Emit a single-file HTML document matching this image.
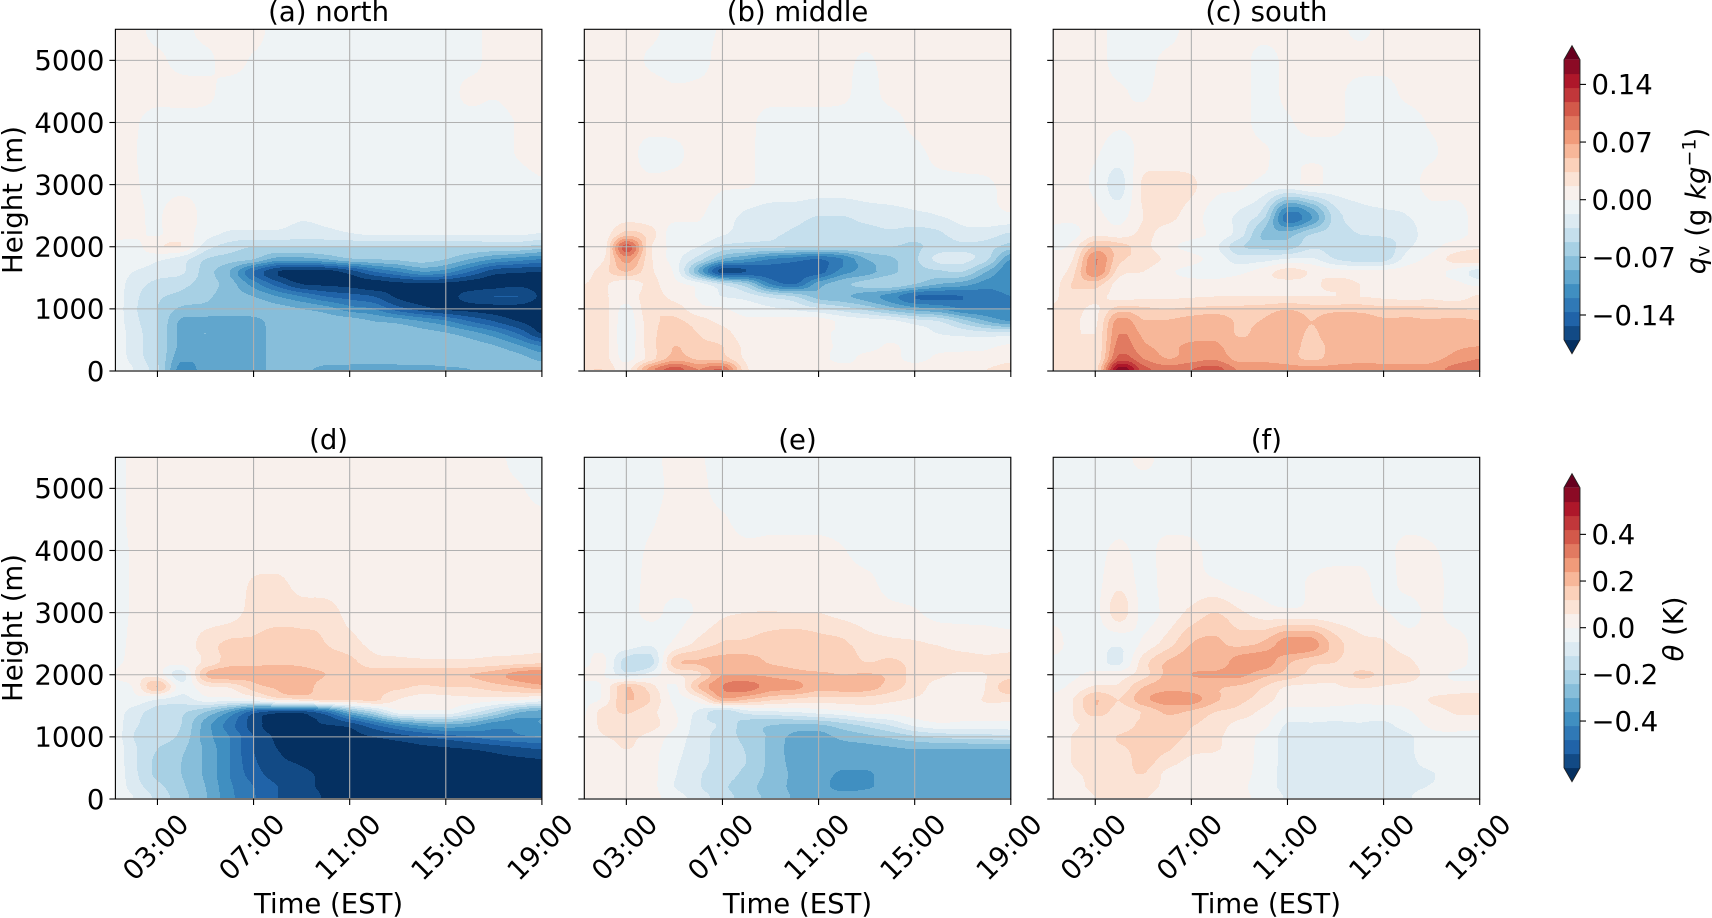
<!DOCTYPE html>
<html>
<head>
<meta charset="utf-8">
<title>Height-time anomalies</title>
<style>
html,body{margin:0;padding:0;background:#fff;}
svg{display:block;font-family:"DejaVu Sans","Liberation Sans",sans-serif;}
text{fill:#000;font-size:27.5px;}
</style>
</head>
<body>
<svg id="figure" xmlns="http://www.w3.org/2000/svg" width="1712" height="918" viewBox="0 0 1712 918">
  <rect width="1712" height="918" fill="#fff"/>
  <g id="panels"></g>
  <text x="328.6" y="21" text-anchor="middle">(a) north</text>
  <text x="797.5" y="21" text-anchor="middle">(b) middle</text>
  <text x="1266.4" y="21" text-anchor="middle">(c) south</text>
  <text x="328.6" y="449" text-anchor="middle">(d)</text>
  <text x="797.5" y="449" text-anchor="middle">(e)</text>
  <text x="1266.4" y="449" text-anchor="middle">(f)</text>
  <text transform="translate(22,200) rotate(-90)" text-anchor="middle">Height (m)</text>
  <text transform="translate(22,628) rotate(-90)" text-anchor="middle">Height (m)</text>
  <text x="328.6" y="913" text-anchor="middle">Time (EST)</text>
  <text x="797.5" y="913" text-anchor="middle">Time (EST)</text>
  <text x="1266.4" y="913" text-anchor="middle">Time (EST)</text>
  <g id="colorbars"></g>
  <text transform="translate(1705.5,201) rotate(-90)" text-anchor="middle"><tspan font-style="italic">q</tspan><tspan font-size="19" dy="4">v</tspan><tspan dy="-4"> (g </tspan><tspan font-style="italic">kg</tspan><tspan font-size="19" dy="-10">−1</tspan><tspan dy="10">)</tspan></text>
  <text transform="translate(1683,629) rotate(-90)" text-anchor="middle"><tspan font-style="italic">θ</tspan> (K)</text>
</svg>
<script>
/* Time axis of the data grid, hours EST */
const timeHours = [1.25,2,3,4,5,6,7,8,9,10,11,12,13,14,15,16,17,18,19];
/* Height axis of the data grid, metres, listed from the top of the plot down */
const heightMeters = [5500,5000,4500,4000,3500,3000,2500,2200,2000,1800,1600,1400,1200,1000,800,600,400,200,30];

const xTickHours = [3,7,11,15,19];
const xTickLabels = ['03:00','07:00','11:00','15:00','19:00'];
const yTickValues = [0,1000,2000,3000,4000,5000];
const yTickLabels = ['0','1000','2000','3000','4000','5000'];

/* Contour interval of each variable; the fields below are in multiples of it */
const qvInterval = 0.017;
const thetaInterval = 0.06;
const qvColorbarTicks = [0.14,0.07,0,-0.07,-0.14];
const qvColorbarLabels = ['0.14','0.07','0.00','−0.07','−0.14'];
const thetaColorbarTicks = [0.4,0.2,0,-0.2,-0.4];
const thetaColorbarLabels = ['0.4','0.2','0.0','−0.2','−0.4'];

const qvNorth = [
[.3,.3,-.3,-.3,.3,.3,.3,-.3,-.3,-.3,-.3,-.3,-.3,-.3,-.3,-.3,.3,.3,.3],
[.3,.3,.2,-.3,-.2,.3,-.1,-.3,-.3,-.3,-.3,-.3,-.3,-.3,-.3,-.3,.3,.3,.3],
[.3,.3,.3,.3,.2,-.3,-.3,-.3,-.3,-.3,-.3,-.3,-.3,-.3,-.3,.2,.1,.3,.3],
[.3,.1,-.3,-.3,-.3,-.3,-.3,-.3,-.3,-.3,-.3,-.3,-.3,-.3,-.3,-.3,-.3,.05,.3],
[.3,.05,-.3,-.3,-.3,-.3,-.3,-.3,-.3,-.3,-.3,-.3,-.3,-.3,-.3,-.3,-.3,.05,.3],
[.3,.1,-.3,-.3,-.3,-.3,-.3,-.3,-.3,-.3,-.3,-.3,-.3,-.3,-.3,-.3,-.3,-.3,-.1],
[.3,.2,-.1,.6,-.3,-.4,-.4,-.4,-.8,-.6,-.4,-.4,-.4,-.4,-.4,-.4,-.4,-.4,-.4],
[.3,.2,-.1,.5,-.6,-1.2,-1.3,-1.3,-1.6,-1.4,-1.1,-.9,-.9,-.9,-.9,-.9,-.9,-.9,-1.1],
[-.3,-.4,.8,1,-1.5,-2.5,-3,-3,-3,-3,-3,-3,-3,-3,-3,-3,-3,-3,-3.5],
[-.3,-.4,-.8,-1.5,-3,-3.5,-4,-5.5,-5.5,-5,-4.2,-4,-3.8,-3.5,-4,-5,-6,-6.5,-7],
[-.4,-1,-1.5,-1.8,-3.5,-5,-8,-10,-10.5,-10.5,-9.5,-8,-7,-6,-6.5,-8,-9.5,-9.8,-10],
[-.5,-1.5,-2.3,-2.7,-3.5,-4.5,-6.5,-8.5,-10,-10.2,-10.3,-10.5,-10.3,-10.2,-10.3,-10.5,-10.5,-10.2,-10.5],
[-.5,-1.7,-2.8,-3.3,-3.8,-4.5,-5,-6,-7,-8,-8.5,-9,-10.2,-10.5,-10.5,-9.5,-9,-9,-10.2],
[-.5,-1.8,-3,-4.2,-4.3,-4.4,-4.5,-4.6,-5,-5.5,-6.5,-7,-8.5,-9.5,-10.2,-10.3,-10.4,-10.5,-10.7],
[-.5,-1.7,-3,-5.2,-5.3,-5.5,-5.3,-4.6,-4.5,-4.5,-4.5,-5,-5.3,-6,-6.8,-8,-9,-10,-10.5],
[-.5,-1.5,-3,-5.3,-5,-5.5,-5.5,-4.5,-4.5,-4.5,-4.5,-4.5,-4.5,-4.6,-4.9,-5.5,-6.5,-8,-10],
[-.5,-1.5,-3,-5.3,-5.4,-5.5,-5.5,-4.5,-4.5,-4.5,-4.5,-4.5,-4.5,-4.5,-4.5,-4.6,-4.9,-5.8,-7],
[-.5,-1.4,-3,-5.8,-5.5,-5.5,-5.5,-4.5,-4.5,-4.6,-4.7,-4.7,-4.7,-4.7,-4.6,-4.5,-4.5,-4.6,-5.3],
[-.3,-1,-2.8,-6.5,-5.5,-5.5,-5.5,-4.6,-4.8,-5.2,-5.2,-5.3,-5.2,-5.2,-5.1,-5,-4.7,-4.5,-4.5]
];

const qvMiddle = [
[.3,.3,.3,.2,-.3,-.3,.1,.3,.3,.3,.3,.3,.3,.3,.3,.3,.3,.3,.3],
[.3,.3,.3,-.1,-.3,-.3,.3,.3,.3,.3,.3,.2,-.1,.3,.3,.3,.3,.3,.3],
[.3,.3,.3,.3,.1,.2,.3,.3,.3,.3,.3,.2,-.3,.3,.3,.3,.3,.3,.3],
[.3,.3,.3,.3,.3,.3,.3,.2,-.3,-.3,-.3,-.3,-.3,-.3,.2,.3,.3,.3,.3],
[.3,.3,.3,-.3,-.2,.3,.3,.15,-.3,-.3,-.3,-.3,-.3,-.3,-.2,.2,.3,.3,.3],
[.3,.3,.3,.2,.3,.3,.1,.1,-.3,-.3,-.3,-.3,-.3,-.3,-.3,-.3,-.2,-.1,.2],
[.3,.3,.5,.3,.3,.1,-.5,-1.2,-1.5,-1.6,-2,-2,-1.6,-1.4,-1.2,-1,-.6,-.3,-.1],
[.3,.3,2.5,1.5,-.6,-.3,-.9,-1.5,-1.8,-2.2,-2.4,-2.3,-2.4,-2.2,-2.5,-2.2,-1.4,-1.5,-2.2],
[.1,.1,6.5,1.2,-.3,-1,-2.3,-2.6,-2.7,-2.9,-3,-3,-3,-3,-3.2,-2.5,-2.2,-2.5,-3.5],
[.2,.8,4.5,1.2,-.5,-2.5,-5,-6,-7,-7.5,-8,-7,-5,-4.2,-3.2,-1.7,-1.7,-2.8,-6],
[.6,1.5,3,1.2,-.2,-5,-9.5,-9,-8.5,-8.5,-8.5,-6.5,-5.5,-4.3,-3.5,-3.2,-3,-5,-7],
[1,1.2,.3,1.2,.3,-.5,-2.2,-3.8,-7,-8,-5.5,-4.3,-3.6,-3.2,-4,-5,-5.5,-6.5,-6.5],
[1.3,1.2,.4,1.5,.6,-.1,-1,-1.4,-2.3,-3,-4.5,-4.8,-5.5,-6.5,-8,-8.2,-8,-7.5,-7],
[1.5,1.5,-.3,1.8,1.6,.3,.1,-.5,-.8,-1.2,-1.8,-2.5,-3.3,-4.5,-5.5,-6,-7,-7,-7],
[1.5,1.5,-.5,1.6,2.2,1.5,.7,.2,.3,.5,.5,-.2,-.5,-.7,-1.5,-2,-3.5,-5,-6],
[1.5,1.5,-.6,1.6,2.6,2,1.5,.3,.3,.3,.3,-.3,-.3,-.3,-.5,-1,-1.3,-1.5,-1.5],
[1.5,1.5,-.5,1.6,3,2.2,2,.7,.3,.3,.3,-.2,-.3,.1,-.3,-.3,-.3,-.2,.2],
[1.5,1.5,-.3,1.5,3.5,2.8,2.5,.8,.3,.3,.3,-.3,.3,.3,-.3,.2,.3,.3,.7],
[1.8,2,.6,4.5,6.5,5,6,1.2,.6,.6,.6,.4,.3,.6,.5,.7,.7,1,1.5]
];

const qvSouth = [
[.3,.3,.3,-.3,-.3,-.3,.3,.3,.3,.3,.3,.3,.3,-.2,.3,.3,.3,.3,.3],
[.3,.3,.3,-.3,-.3,.2,.3,.3,.3,-.3,.2,.3,.3,.3,.3,.3,.3,.3,.3],
[.3,.3,.3,.1,-.1,.3,.3,.3,.3,-.3,.2,.3,.2,-.3,-.3,.2,.3,.3,.3],
[.3,.3,.3,.1,.2,.3,.3,.3,.3,-.3,-.1,.3,.2,-.3,-.3,-.3,.1,.3,.3],
[.3,.3,.1,-.5,.3,.3,.3,.3,.3,.1,-.3,-.3,-.3,-.3,-.3,-.3,-.1,.3,.3],
[.3,.3,-.2,-1.4,1.2,1.5,1.2,.3,.2,-.3,-.3,.2,-.3,-.3,-.3,-.3,.3,.3,.3],
[.3,.3,.3,-.4,1,1.3,.5,-.5,-1.2,-2.6,-7.5,-6,-2.5,-1.5,-1.2,-1,-.3,-.3,.3],
[-.3,-.4,.8,.5,1.2,.6,.3,-.3,-1.5,-4.2,-4.5,-3,-2.5,-2,-1.8,-1.5,-.3,-.3,.3],
[-.1,.3,3.2,2.5,1.4,.3,-.3,-.8,-2.8,-3.3,-3.5,-2.2,-2.5,-3,-2.8,-1.2,-.3,.4,.8],
[.3,.8,5,2.3,1.6,.8,.3,-.4,-1.5,-1.4,-.9,-.8,-2,-2.5,-2.4,-.5,.3,1.4,1.8],
[.3,1.5,5,1.5,1,.2,-.3,-.5,-.3,.5,1.4,.9,.4,.3,.3,.4,.3,-.3,-1.5],
[.5,2,2.5,.5,.2,.4,.4,.4,.7,.8,.7,.8,1.3,1,.6,.3,.2,.2,-.3],
[.7,1.8,1.5,.5,.8,.8,.9,1,1,1,1,1,1,1,.8,.6,.7,.5,1.2],
[1.2,1.5,.8,2.5,2.2,2,2.2,2.3,2.3,2.5,2.9,2.5,2.6,2.6,2.3,2.4,2.2,2,1.9],
[1.2,1.3,.8,4.5,3.1,3.1,3.5,3.8,2.8,3.1,3.8,3,3.8,3.6,3.2,3.2,3.1,3.3,3.1],
[1.2,1.3,1,5,3.8,3.4,3.6,3.8,2.9,3.4,3.8,2.8,3.8,3.1,3.6,3.5,3.4,3.5,3.8],
[1.1,1.6,1,5.5,4.2,3.8,4.2,4.2,3.3,3.3,3.6,2.6,3.4,3.3,3.4,3.4,3.3,3.8,4],
[1,2,1,6.5,5,4,4.5,4.8,3.6,3.7,3.4,2.8,3.4,3.6,3.6,3.6,3.7,4.4,5],
[1.5,2,1.5,9.5,6.5,5.5,6,6.5,4.8,4.6,4.5,4.3,4.4,4.5,4.4,4.4,4.4,5.5,5.8]
];

const thetaNorth = [
[-.3,.2,.3,.3,.3,.3,.3,.3,.3,.3,.3,.3,.3,.3,.3,.3,.3,-.3,-.3],
[-.3,.2,.3,.3,.3,.3,.3,.3,.3,.3,.3,.3,.3,.3,.3,.3,.3,.1,-.3],
[-.3,.2,.3,.3,.3,.3,.3,.3,.3,.3,.3,.3,.3,.3,.3,.3,.3,.3,.2],
[-.3,.1,.3,.3,.3,.3,.3,.3,.3,.3,.3,.3,.3,.3,.3,.3,.3,.3,.3],
[-.3,.1,.3,.3,.3,.4,1.1,1.2,.6,.3,.3,.3,.3,.3,.3,.3,.3,.3,.3],
[-.3,.1,.3,.3,.3,.5,1.4,1.5,1.5,1.6,.6,.3,.3,.3,.3,.3,.3,.3,.3],
[-.3,.2,.3,.3,1.5,2.2,2.2,2.6,2.4,2,1.4,.7,.5,.5,.5,.5,.5,.5,.6],
[-.2,.3,.3,.3,1.2,2.5,2.8,2.8,2.8,2.5,2.3,1.4,1.3,1.2,1.2,1.2,1.4,1.6,1.8],
[.1,.6,.6,-1.5,3,3.8,3.3,3.8,3.4,3,2.6,2.5,2.6,2.7,2.8,3,3.5,4.5,5],
[-.3,.1,3,-.6,.8,1.1,2.5,3.2,3.5,2.5,2.5,2,2.2,1.8,2,2,2.5,2.9,3.5],
[-.5,-.3,-1,-1.5,-.5,-.5,-.2,1.2,1.6,2.3,2,2.3,1,.4,.5,.6,.4,.3,-.3],
[-.5,-1.5,-2.5,-2.8,-4,-6,-8.5,-9.5,-9.5,-8,-5,-3,-.5,-.3,-.3,-1.5,-3,-4.8,-5.5],
[-.5,-1.8,-2.5,-3,-5.5,-7.5,-9.5,-10.5,-10.2,-10,-9.5,-8,-6.5,-5.5,-5,-5.5,-6.5,-6.7,-6],
[-.5,-2,-2.5,-3.3,-5.5,-7,-9,-10.2,-10.2,-10.2,-10.3,-10,-9.5,-9,-8.5,-8,-7.5,-7.2,-7],
[-.4,-1.8,-3,-3.8,-5.2,-7,-9,-10,-10.2,-10.5,-10.5,-10.5,-10.5,-10.3,-10.2,-10,-9.7,-9.3,-9],
[-.4,-1.8,-3.3,-4,-5.2,-7,-8.8,-9.8,-10.1,-10.5,-10.6,-10.6,-10.6,-10.6,-10.6,-10.4,-10.3,-10.3,-10.2],
[-.4,-1.7,-3.3,-4,-5.2,-7,-8.5,-9.5,-9.8,-10.2,-10.6,-10.6,-10.6,-10.6,-10.6,-10.6,-10.6,-10.6,-10.6],
[-.3,-1.5,-2.7,-3.8,-5,-6.8,-8,-9,-9.7,-10.2,-10.6,-10.6,-10.6,-10.6,-10.6,-10.6,-10.6,-10.6,-10.6],
[-.2,-1,-2.3,-3.6,-4.9,-6.7,-7.9,-9,-9.5,-10.1,-10.6,-10.6,-10.6,-10.6,-10.6,-10.6,-10.6,-10.6,-10.6]
];

const thetaMiddle = [
[-.3,-.3,-.3,-.3,.3,.1,-.3,-.3,-.3,-.3,-.3,-.3,-.3,-.3,-.3,-.3,-.3,-.3,-.3],
[-.3,-.3,-.3,-.3,.2,.2,-.3,-.3,-.3,-.3,-.3,-.3,-.3,-.3,-.3,-.3,-.3,-.3,-.3],
[-.3,-.3,-.3,-.1,.3,.3,.1,-.3,-.3,-.3,-.3,-.3,-.3,-.3,-.3,-.3,-.3,-.3,-.3],
[-.3,-.3,-.3,.1,.3,.3,.3,.2,.3,.3,.3,.05,-.3,-.3,-.3,-.3,-.3,-.3,-.3],
[-.3,-.3,-.3,.2,.3,.3,.3,.3,.3,.3,.3,.3,.2,-.3,-.3,-.3,-.3,-.3,-.3],
[-.3,-.3,-.3,.2,-.2,.1,.8,1,1.05,1,1,.7,.5,.3,.1,-.3,-.2,-.2,-.3],
[-.3,-.3,-.3,-.8,.2,1.3,2.1,2.2,2.6,2.8,2.4,2.2,1.4,1.2,1.1,.9,.5,.4,.4],
[-.3,.3,-2.5,-2.5,2.5,3.1,3.5,3.5,2.9,2.7,2.3,2.6,2,2.2,1.7,1.5,1.5,1.3,1.6],
[.3,.1,-1.5,-.5,.8,1.8,4,4,3.8,3.4,3.2,3,3.1,2.8,1.6,1.2,.8,1,1.5],
[-.3,.1,3,1.5,-.2,3,5,5.5,4.5,4.3,3.4,3.5,3.5,2.5,1.5,.6,.4,1.1,3],
[-.2,.2,3,2,-.2,.5,3.5,3,2.2,1.8,1.5,1.6,1.5,1.2,.9,.7,.6,1.1,1.2],
[-.1,1.4,2.1,1.3,.1,-1.2,-2.8,-1.5,-1.2,-1,-.6,-.3,.3,.3,.5,.5,.4,.5,.5],
[.1,1.3,1.6,1.4,.2,-1.5,-2.2,-3.5,-3.9,-4.1,-4,-3.3,-2.6,-1.8,-.7,-.2,-.3,-.3,-.3],
[.2,.9,1.2,.7,-.4,-1.5,-2.5,-3.3,-4.2,-5.3,-5.5,-4.7,-4.3,-3.8,-3.2,-2.8,-2.6,-2.5,-2.3],
[.3,.4,1,.4,-.6,-1.6,-2.4,-3.1,-4.3,-5.4,-5.5,-5.5,-5.4,-5.2,-5,-5,-5,-5,-5],
[.3,.3,.3,.3,-.8,-1.6,-2.5,-3,-4.3,-5.3,-5.4,-5.6,-5.5,-5.4,-5.3,-5.3,-5.3,-5.3,-5.3],
[.3,.3,.3,.3,-.9,-1.9,-2.5,-3.3,-4.3,-5.2,-5.5,-6.2,-6.2,-5.4,-5.3,-5.3,-5.3,-5.3,-5.3],
[.3,.3,.3,.3,-1,-1.9,-2.8,-3.6,-4.5,-5.2,-5.5,-6.5,-6.2,-5.5,-5.3,-5.3,-5.3,-5.3,-5.3],
[.3,.3,.3,.3,-.5,-1.5,-2.5,-3.5,-4.3,-5.1,-5.2,-5.3,-5.2,-5.1,-5.1,-5.1,-5.1,-5.1,-5.1]
];

const thetaSouth = [
[-.3,-.3,-.3,-.3,.2,-.3,-.3,-.3,-.3,-.3,-.3,-.3,-.3,-.3,-.3,-.3,-.3,-.3,-.3],
[-.3,-.3,-.3,-.3,-.3,-.3,-.3,-.3,-.3,-.3,-.3,-.3,-.3,-.3,-.3,-.3,-.3,-.3,-.3],
[-.3,-.3,-.3,-.3,-.3,-.3,-.3,-.3,-.3,-.3,-.3,-.3,-.3,-.3,-.3,-.3,-.3,-.3,-.3],
[-.3,-.3,-.3,.2,-.3,.3,.2,-.3,-.3,-.3,-.3,-.3,-.3,-.3,-.3,.3,.1,-.3,-.3],
[-.3,-.3,-.3,.7,-.3,.3,.3,.1,-.3,-.3,-.3,.1,.3,.3,-.3,.3,.3,-.3,-.3],
[-.3,-.3,-.3,1.5,-.3,.3,1.3,2,1.2,.5,.3,.3,.3,.3,.1,-.3,.2,-.3,-.3],
[.4,-.3,-.5,-.8,.2,1.5,3,3.2,2.7,3.2,4.6,4.5,2.5,1.3,1.1,.5,.3,.3,-.3],
[-.3,-.3,-.5,-1.2,1.5,3.1,3.5,3.2,4.6,4.6,3.2,2.3,2,1.3,1.4,1.2,.4,.3,-.3],
[-.3,-.2,.3,.5,1.6,3.3,4,4.2,4.3,3.3,2.6,1.7,1.2,2.2,1.8,1.6,.4,-.1,-.1],
[-.2,.2,1.2,1.2,3,3.7,3.5,3.1,2.8,2,.9,.8,.9,1.1,.9,.6,.3,.3,.3],
[.2,.9,3,2,3.7,4.5,4.5,3.2,2.3,1.5,.4,.4,.3,.2,.3,.3,1.1,1.5,1.8],
[.3,.9,2.5,1.5,2.1,3.2,2.8,2,1.6,.7,-.3,-.3,-.3,-.3,-.4,-.1,.5,1.1,1.2],
[.3,.9,1.1,1.3,2.3,2.5,2.1,1.5,.7,.3,-1.1,-1.1,-1.2,-1.1,-1.2,-.5,.2,.5,.3],
[.3,1,1.2,2.1,2.5,2.4,1.8,1.2,.5,-.3,-1.4,-1.5,-1.5,-1.5,-1.5,-1.2,-.3,-.3,-.3],
[.3,1,1.5,1.8,2.3,2.1,1.3,1.1,.4,-.3,-1.4,-1.5,-1.5,-1.5,-1.5,-1.2,-.3,-.3,-.3],
[.3,1,1.2,1.5,2.3,1.5,.7,.5,.3,-.3,-1.4,-1.5,-1.5,-1.5,-1.5,-1.3,-.5,-.3,-.3],
[.3,.9,1.1,1.5,2,.7,.3,.3,.3,-.4,-1.4,-1.5,-1.5,-1.5,-1.5,-1.4,-1.1,-.3,-.3],
[.2,.8,1.1,1.3,1.5,.7,.3,.3,.2,-.5,-1.3,-1.4,-1.4,-1.4,-1.4,-1.3,-.9,-.3,-.3],
[.2,.7,1,1.2,1.1,.5,.3,.3,.2,-.3,-1.1,-1.2,-1.2,-1.2,-1.2,-1.1,-.3,-.3,-.3]
];

const SVGNS = 'http://www.w3.org/2000/svg';
const paletteStops = ['#053061','#2166ac','#4393c3','#92c5de','#d1e5f0','#f7f7f7','#fddbc7','#f4a582','#d6604d','#b2182b','#67001f'];
const BAND_COUNT = 22;

function hexToRgb(h){ return [parseInt(h.slice(1,3),16),parseInt(h.slice(3,5),16),parseInt(h.slice(5,7),16)]; }
function bandColor(i){
  const p = i/(BAND_COUNT-1)*(paletteStops.length-1);
  const k = Math.min(Math.floor(p),paletteStops.length-2);
  const f = p-k, a = hexToRgb(paletteStops[k]), b = hexToRgb(paletteStops[k+1]);
  return 'rgb('+a.map((c,j)=>Math.round(c+(b[j]-c)*f)).join(',')+')';
}
function bandIndex(v){ return Math.max(0,Math.min(BAND_COUNT-1,Math.floor(v)+11)); }

function fractionalIndex(axis,v){
  const asc = axis[axis.length-1]>axis[0];
  for(let i=0;i<axis.length-1;i++){
    const a=axis[i],b=axis[i+1];
    if(asc? v<=b : v>=b){ return i+Math.max(0,Math.min(1,(v-a)/(b-a))); }
  }
  return axis.length-1;
}
function catmull(p0,p1,p2,p3,f){
  const v = 0.5*((2*p1)+(-p0+p2)*f+(2*p0-5*p1+4*p2-p3)*f*f+(-p0+3*p1-3*p2+p3)*f*f*f);
  return Math.max(Math.min(p1,p2),Math.min(Math.max(p1,p2),v));
}
function interp(arr,fi){
  const n=arr.length, i=Math.min(n-2,Math.floor(fi)), f=fi-i;
  return catmull(arr[Math.max(0,i-1)],arr[i],arr[i+1],arr[Math.min(n-1,i+2)],f);
}

const PLOT_W = 426.5, PLOT_H = 341.7;
const TIME_MIN = 1.25, TIME_MAX = 19, HEIGHT_MAX = 5500;
const columnLefts = [115.4,584.3,1053.2];
const rowTops = [29.3,457.3];

function makeEl(tag,attrs,parent){
  const el=document.createElementNS(SVGNS,tag);
  for(const k in attrs){ el.setAttribute(k,attrs[k]); }
  parent.appendChild(el);
  return el;
}

function drawPanel(field,key,col,row){
  const root=document.getElementById('panels');
  const left=columnLefts[col], top=rowTops[row], bottom=top+PLOT_H, right=left+PLOT_W;
  const xScale=t=>left+(t-TIME_MIN)/(TIME_MAX-TIME_MIN)*PLOT_W;
  const yScale=z=>bottom-z/HEIGHT_MAX*PLOT_H;
  const g=makeEl('g',{},root);
  
  

  const runs=new Array(BAND_COUNT).fill(null).map(()=>[]);
  const x0=Math.round(left), x1=Math.round(right), y0=Math.round(top), y1=Math.round(bottom);
  const colFrac=[];
  for(let px=x0;px<x1;px++){
    const t=TIME_MIN+(px+0.5-left)/PLOT_W*(TIME_MAX-TIME_MIN);
    colFrac.push(fractionalIndex(timeHours,Math.max(TIME_MIN,Math.min(TIME_MAX,t))));
  }
  const nCols=timeHours.length;
  for(let py=y0;py<y1;py++){
    const z=(bottom-(py+0.5))/PLOT_H*HEIGHT_MAX;
    if(z<22) continue;
    const fz=fractionalIndex(heightMeters,Math.min(HEIGHT_MAX,z));
    const rowVals=[];
    for(let c=0;c<nCols;c++){
      rowVals.push(interp(field.map(r=>r[c]),fz));
    }
    let start=x0, cur=-1;
    for(let i=0;i<colFrac.length;i++){
      const b=bandIndex(interp(rowVals,colFrac[i]));
      if(b!==cur){
        if(cur>=0){ runs[cur].push('M'+start+' '+py+'h'+(x0+i-start)+'v1h-'+(x0+i-start)+'z'); }
        cur=b; start=x0+i;
      }
    }
    runs[cur].push('M'+start+' '+py+'h'+(x1-start)+'v1h-'+(x1-start)+'z');
  }
  runs.forEach((r,i)=>{
    if(!r.length) return;
    const p=makeEl('path',{d:r.join(''),fill:bandColor(i),'shape-rendering':'crispEdges'},g);
    
    
  });

  xTickHours.forEach((h,i)=>{
    const x=xScale(h);
    const line=makeEl('line',{x1:x,x2:x,y1:top,y2:bottom,stroke:'#b0b0b0','stroke-width':1.1},g);
    
    
  });
  yTickValues.forEach((v,i)=>{
    const y=yScale(v);
    const line=makeEl('line',{x1:left,x2:right,y1:y,y2:y,stroke:'#b0b0b0','stroke-width':1.1},g);
    
    
  });
  const frame=makeEl('rect',{x:left,y:top,width:PLOT_W,height:PLOT_H,fill:'none',stroke:'#000','stroke-width':1.1},g);
  
  

  xTickHours.forEach((h,i)=>{
    const x=xScale(h);
    const tick=makeEl('line',{x1:x,x2:x,y1:bottom,y2:bottom+6,stroke:'#000','stroke-width':1.1},g);
    
    
    if(row===1){
      const lx=x-2, ly=bottom+48;
      const label=makeEl('text',{transform:'rotate(-45 '+lx+' '+ly+')',x:lx,y:ly+9.8,'text-anchor':'middle'},g);
      label.textContent=xTickLabels[i];
      
      
    }
  });
  yTickValues.forEach((v,i)=>{
    const y=yScale(v);
    const tick=makeEl('line',{x1:left-6,x2:left,y1:y,y2:y,stroke:'#000','stroke-width':1.1},g);
    
    
    if(col===0){
      const label=makeEl('text',{x:left-11,y:y+9.8,'text-anchor':'end'},g);
      label.textContent=yTickLabels[i];
      
      
    }
  });
}

function drawColorbar(key,interval,ticks,labels,mid){
  const root=document.getElementById('colorbars');
  const g=makeEl('g',{},root);
  
  
  const BAR_X=1564, BAR_W=16, BAND_H=14, TIP=14;
  const halfSpan=10*BAND_H;
  const valueY=v=>mid-(v/(10*interval))*halfSpan;
  const upper=mid-halfSpan, lower=mid+halfSpan;
  const low=makeEl('polygon',{points:BAR_X+','+lower+' '+(BAR_X+BAR_W)+','+lower+' '+(BAR_X+BAR_W/2)+','+(lower+TIP),fill:bandColor(0)},g);
  
  
  const high=makeEl('polygon',{points:BAR_X+','+upper+' '+(BAR_X+BAR_W)+','+upper+' '+(BAR_X+BAR_W/2)+','+(upper-TIP),fill:bandColor(BAND_COUNT-1)},g);
  
  
  for(let i=1;i<BAND_COUNT-1;i++){
    const lev=i-11;
    const yTop=valueY((lev+1)*interval), yBot=valueY(lev*interval);
    const r=makeEl('rect',{x:BAR_X,y:yTop,width:BAR_W,height:yBot-yTop+0.4,fill:bandColor(i)},g);
    
    
  }
  const outline=makeEl('polygon',{points:[BAR_X,upper,BAR_X+BAR_W/2,upper-TIP,BAR_X+BAR_W,upper,BAR_X+BAR_W,lower,BAR_X+BAR_W/2,lower+TIP,BAR_X,lower].join(' '),fill:'none',stroke:'#222','stroke-width':0.9},g);
  
  
  ticks.forEach((v,i)=>{
    const y=valueY(v);
    const t=makeEl('line',{x1:BAR_X+BAR_W,x2:BAR_X+BAR_W+6,y1:y,y2:y,stroke:'#000','stroke-width':1.1},g);
    
    
    const label=makeEl('text',{x:BAR_X+BAR_W+11.5,y:y+9.8},g);
    label.textContent=labels[i];
    
    
  });
}

drawPanel(qvNorth,'a-north',0,0);
drawPanel(qvMiddle,'b-middle',1,0);
drawPanel(qvSouth,'c-south',2,0);
drawPanel(thetaNorth,'d',0,1);
drawPanel(thetaMiddle,'e',1,1);
drawPanel(thetaSouth,'f',2,1);
drawColorbar('qv',qvInterval,qvColorbarTicks,qvColorbarLabels,199.7);
drawColorbar('theta',thetaInterval,thetaColorbarTicks,thetaColorbarLabels,627.7);
</script>
</body>
</html>
